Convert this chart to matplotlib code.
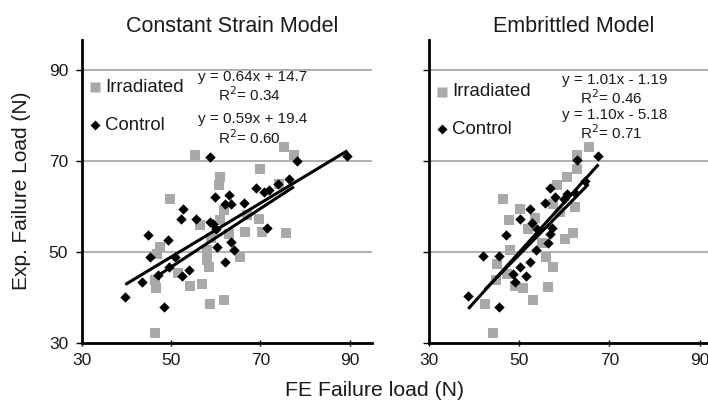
import numpy as np
import matplotlib
matplotlib.use("Agg")
import matplotlib.pyplot as plt
from matplotlib.lines import Line2D

plt.rcParams['font.family'] = ['Liberation Sans', 'DejaVu Sans']

titles = ["Constant Strain Model", "Embrittled Model"]
x_label = "FE Failure load (N)"
y_label = "Exp. Failure Load (N)"
ticks = [30, 50, 70, 90]

# Constant strain model
cs_irr_x = [55.4, 75.2, 77.5, 69.8, 61.0, 60.6, 49.8, 74.1, 69.6, 66.6, 70.4, 75.8, 65.5, 47.5, 46.8, 58.0,
            58.0, 58.4, 51.6, 46.4, 46.6, 54.3, 56.9, 61.8, 58.8, 46.4, 61.8, 61.0, 67.0, 56.5, 63.0, 59.0]
cs_irr_y = [71.2, 73.0, 71.2, 68.1, 66.4, 64.6, 61.7, 65.0, 57.3, 54.4, 54.4, 54.2, 48.8, 51.1, 49.5, 50.4,
            48.2, 46.7, 45.4, 43.8, 42.0, 42.5, 42.9, 39.4, 38.5, 32.1, 59.1, 56.9, 58.0, 55.8, 54.0, 53.0]
cs_ctl_x = [58.6, 89.5, 78.2, 76.4, 68.9, 70.7, 59.9, 62.9, 62.1, 63.5, 66.2, 52.6, 52.2, 55.5, 58.8, 59.3,
            60.1, 71.5, 44.9, 49.2, 63.3, 60.3, 64.0, 45.3, 50.9, 62.1, 49.4, 53.9, 52.4, 47.1, 43.4, 39.7,
            48.3, 74.0, 72.0]
cs_ctl_y = [70.8, 71.0, 69.9, 66.1, 64.1, 63.1, 62.0, 62.4, 60.6, 60.6, 60.7, 59.3, 57.3, 57.3, 56.6, 56.1,
            55.0, 55.3, 53.7, 52.6, 52.2, 51.1, 50.5, 48.9, 48.9, 47.8, 46.7, 46.1, 44.7, 44.9, 43.4, 40.1,
            38.0, 65.0, 63.5]
cs_irr_fit = (0.64, 14.7, 0.34)
cs_ctl_fit = (0.59, 19.4, 0.60)

# Embrittled model
em_irr_x = [65.4, 62.8, 62.8, 60.6, 58.4, 46.5, 50.2, 47.7, 62.4, 59.1, 62.0, 60.2, 56.1, 57.6, 45.1, 47.3,
            45.0, 49.1, 51.0, 56.5, 53.2, 42.5, 44.3, 52.0, 55.0, 48.0, 53.5, 57.5]
em_irr_y = [73.0, 71.2, 68.1, 66.4, 64.6, 61.7, 59.5, 56.9, 59.9, 58.8, 54.2, 52.9, 48.9, 46.7, 47.4, 45.2,
            43.9, 42.6, 42.1, 42.4, 39.4, 38.5, 32.1, 55.0, 52.0, 50.5, 57.5, 60.5]
em_ctl_x = [67.6, 62.8, 64.6, 60.6, 56.9, 58.0, 55.8, 52.5, 50.2, 52.8, 54.0, 57.3, 56.8, 47.1, 56.5, 53.8,
            42.1, 45.7, 52.5, 50.2, 48.8, 51.6, 49.1, 38.8, 45.6, 60.0, 62.5]
em_ctl_y = [71.0, 70.1, 65.6, 62.8, 64.1, 62.0, 60.7, 59.3, 57.3, 56.3, 55.0, 55.3, 54.0, 53.8, 52.0, 50.5,
            49.1, 49.1, 47.7, 46.7, 45.1, 44.8, 43.4, 40.3, 38.0, 61.5, 63.0]
em_irr_fit = (1.01, -1.19, 0.46)
em_ctl_fit = (1.10, -5.18, 0.71)

W, H = 708, 403
fig = plt.figure(figsize=(W / 100, H / 100), dpi=100)

def fx(px):
    return px / W

def fy(py):
    return 1 - py / H

sq_color = '#a9a9a9'
txt_color = '#1a1a1a'

def panel(ax, irr_x, irr_y, ctl_x, ctl_y, irr_fit, ctl_fit, show_ylabels):
    ax.set_xlim(30, 95)
    ax.set_ylim(30, 96.5)
    for v in ticks[1:]:
        ax.axhline(v, color='#9a9a9a', lw=1.1, zorder=1)
    ax.scatter(irr_x, irr_y, marker='s', s=54, color=sq_color, linewidths=0, zorder=2)
    ax.scatter(ctl_x, ctl_y, marker='D', s=28, color='black', linewidths=0, zorder=3)
    for (xs, fit) in [(irr_x, irr_fit), (ctl_x, ctl_fit)]:
        xx = np.array([min(xs), max(xs)])
        ax.plot(xx, fit[0] * xx + fit[1], color='black', lw=2.2, zorder=4, solid_capstyle='butt')
    for s in ['top', 'right']:
        ax.spines[s].set_visible(False)
    for s in ['left', 'bottom']:
        ax.spines[s].set_linewidth(2)
    ax.set_xticks(ticks)
    ax.set_yticks(ticks)
    ax.tick_params(axis='x', direction='inout', length=5, width=1, labelsize=12.5, pad=5, labelcolor=txt_color)
    ax.tick_params(axis='y', direction='out', length=4, width=1, labelsize=12.5, labelleft=show_ylabels,
                   pad=6, labelcolor=txt_color)
    ax.set_xticklabels([str(t) for t in ticks])
    ax.set_yticklabels([str(t) for t in ticks])

def eqtext(m, b, r2, x, y1, y2):
    sign = '+' if b >= 0 else '-'
    fig.text(fx(x), fy(y1), f"y = {m:.2f}x {sign} {abs(b):.{1 if abs(b) >= 10 else 2}f}",
             ha='center', va='center', fontsize=11, color=txt_color)
    fig.text(fx(x - 4), fy(y2), f"R$^{{2}}$= {r2:.2f}", ha='center', va='center', fontsize=11, color=txt_color)

ax1 = fig.add_axes([fx(82), fy(343), fx(372) - fx(82), fy(40) - fy(343)])
ax2 = fig.add_axes([fx(428.5), fy(343), 65 * 4.52 / W, fy(40) - fy(343)])

panel(ax1, cs_irr_x, cs_irr_y, cs_ctl_x, cs_ctl_y, cs_irr_fit, cs_ctl_fit, True)
panel(ax2, em_irr_x, em_irr_y, em_ctl_x, em_ctl_y, em_irr_fit, em_ctl_fit, False)

fig.text(fx(232), fy(27), titles[0], ha='center', va='center', fontsize=15.5, color=txt_color)
fig.text(fx(574), fy(27), titles[1], ha='center', va='center', fontsize=15.5, color=txt_color)
fig.text(fx(375), fy(391), x_label, ha='center', va='center', fontsize=15.3, color=txt_color)
fig.text(fx(22), fy(191), y_label, ha='center', va='center', fontsize=15, rotation=90, color=txt_color)

# legends
for (lx, ly1, ly2) in [(95, 87, 125), (442, 92, 129)]:
    fig.lines.append(Line2D([fx(lx)], [fy(ly1)], marker='s', ms=7.5, color=sq_color, mec='none', ls='none', transform=fig.transFigure))
    fig.lines.append(Line2D([fx(lx)], [fy(ly2)], marker='D', ms=5, color='black', mec='none', ls='none', transform=fig.transFigure))
    fig.text(fx(lx + 10), fy(ly1), "Irradiated", ha='left', va='center', fontsize=13.4, color=txt_color)
    fig.text(fx(lx + 10), fy(ly2), "Control", ha='left', va='center', fontsize=13.4, color=txt_color)

eqtext(*cs_irr_fit, 253, 77, 95)
eqtext(*cs_ctl_fit, 253, 119, 138)
eqtext(*em_irr_fit, 615, 80, 98)
eqtext(*em_ctl_fit, 615, 115, 133)

fig.savefig("out.png", dpi=100)
